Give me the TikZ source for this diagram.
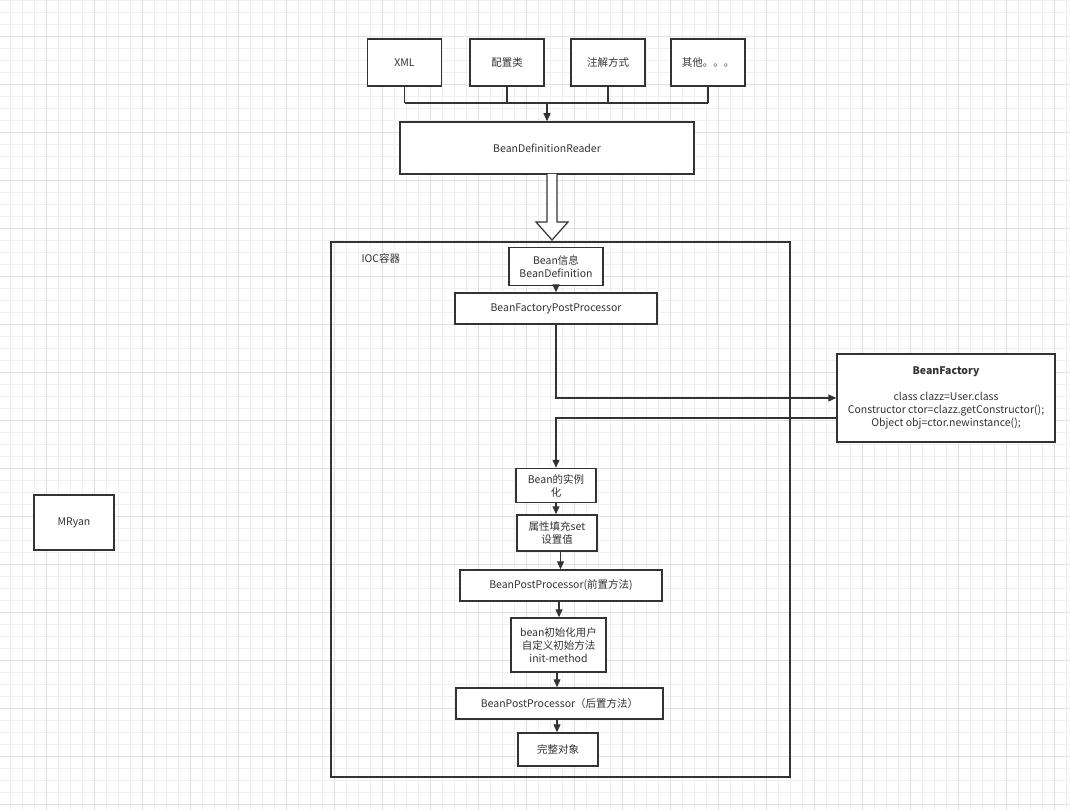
\documentclass[tikz,border=0pt]{standalone}
\usepackage{fontspec}
\setmainfont{Noto Sans CJK SC}
\usetikzlibrary{positioning,arrows.meta}

\definecolor{linegray}{HTML}{333333}
\definecolor{gridminor}{HTML}{F0F0F0}
\definecolor{gridmajor}{HTML}{E0E0E0}

\begin{document}
\begin{tikzpicture}[x=1pt, y=-1pt,
    box/.style={draw=linegray, line width=1.5pt, fill=white, text=linegray,
                font=\fontsize{10.5}{13}\selectfont, align=center, inner sep=0pt},
    conn/.style={draw=linegray, line width=1.2pt},
    arr/.style={conn, -{Triangle[length=8pt,width=7pt]}}]
\useasboundingbox[fill=white] (0,0) rectangle (1070,810);

% background grid
\foreach \i in {0,...,88}
    \draw[gridminor, line width=0.8pt] (10.7+12*\i,0) -- (10.7+12*\i,810);
\foreach \i in {0,...,67}
    \draw[gridminor, line width=0.8pt] (0,0.7+12*\i) -- (1070,0.7+12*\i);
\foreach \i in {0,...,21}
    \draw[gridmajor, line width=0.8pt] (46.7+48*\i,0) -- (46.7+48*\i,810);
\foreach \i in {0,...,16}
    \draw[gridmajor, line width=0.8pt] (0,36.7+48*\i) -- (1070,36.7+48*\i);

% sources
\foreach \n/\x/\t in {xml/404.5/XML, cfg/507/配置类, anno/608/注解方式, other/708/其他。。。}
    \node[box, minimum width=74pt, minimum height=47pt] (\n) at (\x,62.5) {\t};

\node[box, minimum width=294pt, minimum height=52pt] (reader) at (547,148) {BeanDefinitionReader};

\coordinate (bus) at (547,103);
\foreach \n in {xml,cfg,anno,other}
    \draw[conn] (\n.south) -- (\n.south |- bus);
\draw[conn] (xml.south |- bus) -- (other.south |- bus);
\draw[arr] (bus) -- (reader.north);

% IOC container
\node[box, minimum width=459pt, minimum height=535pt, line width=1.3pt, fill=none] (ioc) at (560.5,509.5) {};
\node[anchor=west, text=linegray, font=\fontsize{10.5}{13}\selectfont] (ioclabel) at (358,258) {IOC容器};

% hollow arrow into the container
\draw[linegray, line width=1.2pt, fill=white] (547,174) -- (547,222) -- (536,222) -- (552,240)
    -- (568,222) -- (557,222) -- (557,174);

\node[box, minimum width=94pt, minimum height=38pt] (beaninfo) at (556,266.5) {Bean信息\\BeanDefinition};
\node[box, minimum width=202pt, minimum height=31pt] (bfpp) at (556,308.5) {BeanFactoryPostProcessor};

\node[box, minimum width=218pt, minimum height=88pt] (factory) at (946,398)
    {\textbf{BeanFactory}\\[13pt]class clazz=User.class\\Constructor ctor=clazz.getConstructor();\\Object obj=ctor.newinstance();};

\node[box, minimum width=80pt, minimum height=34pt] (inst) at (556,485.5) {Bean的实例\\化};
\node[box, minimum width=80pt, minimum height=36pt] (fill) at (557,533) {属性填充set\\设置值};
\node[box, minimum width=202pt, minimum height=31pt] (pre) at (561,585.5) {BeanPostProcessor(前置方法)};
\node[box, minimum width=95pt, minimum height=54pt] (init) at (558.5,645) {bean初始化用户\\自定义初始方法\\init-method};
\node[box, minimum width=207pt, minimum height=31pt] (post) at (559.5,703.5) {BeanPostProcessor（后置方法）};
\node[box, minimum width=80pt, minimum height=33pt] (obj) at (558,749.5) {完整对象};

\node[box, minimum width=80pt, minimum height=55pt] (mryan) at (74,522.5) {MRyan};

% flow
\draw[arr] (beaninfo.south) -- (bfpp.north);
\coordinate (toFactory) at (556,398);
\draw[arr] (bfpp.south) -- (toFactory) -- (factory.west |- toFactory);
\coordinate (fromFactory) at (837,418);
\draw[arr] (fromFactory) -- (inst.north |- fromFactory) -- (inst.north);
\draw[arr] (inst.south) -- (inst.south |- fill.north);
\draw[arr] (fill.south -| 560.5,0) -- (560.5,0 |- pre.north);
\draw[arr] (pre.south -| 559,0) -- (559,0 |- init.north);
\draw[arr] (init.south -| 557,0) -- (557,0 |- post.north);
\draw[arr] (post.south -| 557,0) -- (557,0 |- obj.north);

\end{tikzpicture}
\end{document}
